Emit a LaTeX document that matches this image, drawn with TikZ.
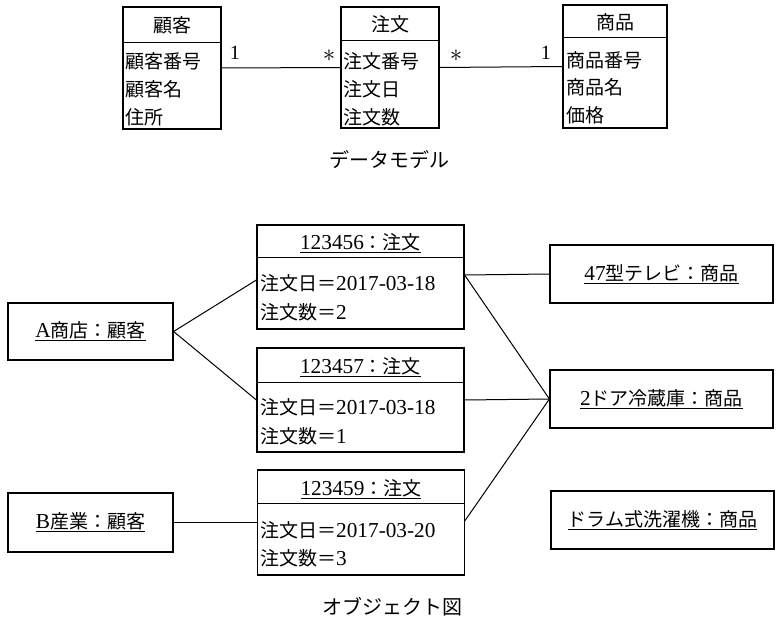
\documentclass[tikz,border=0pt]{standalone}
\usepackage{fontspec}
\setmainfont{Liberation Serif}[Scale=1.12]
\newfontfamily\jp{Noto Sans CJK JP}
\tikzset{
  box/.style={draw, line width=1.2pt, inner sep=0pt},
  conn/.style={line width=1pt},
  txt/.style={inner sep=0pt, font=\fontsize{19}{22}\selectfont},
  attr/.style={txt, anchor=west},
  ttl/.style={inner sep=0pt, font=\fontsize{20}{24}\selectfont},
  mult/.style={inner sep=0pt, font=\fontsize{18}{22}\selectfont},
  star/.style={inner sep=0pt, font=\fontsize{25}{28}\selectfont},
}
\begin{document}
\begin{tikzpicture}[x=1pt, y=-1pt]
\useasboundingbox (0,0) rectangle (783,631);

% ---------- data model ----------
\node[box, minimum width=98pt, minimum height=122pt] (cK) at (172,68) {};
\draw[line width=1.2pt] ([yshift=-36pt]cK.north west) -- ([yshift=-36pt]cK.north east);
\node[txt] (cKh) at (172,25) {\jp 顧客};
\node[attr] (cK1) at (125,61) {\jp 顧客番号};
\node[attr] (cK2) at (125,89) {\jp 顧客名};
\node[attr] (cK3) at (125,117) {\jp 住所};

\node[box, minimum width=98pt, minimum height=121pt] (cC) at (390,67.5) {};
\draw[line width=1.2pt] ([yshift=-34pt]cC.north west) -- ([yshift=-34pt]cC.north east);
\node[txt] (cCh) at (390,24) {\jp 注文};
\node[attr] (cC1) at (343,61) {\jp 注文番号};
\node[attr] (cC2) at (343,89) {\jp 注文日};
\node[attr] (cC3) at (343,117) {\jp 注文数};

\node[box, minimum width=104pt, minimum height=123pt] (cS) at (615,66.5) {};
\draw[line width=1.2pt] ([yshift=-33pt]cS.north west) -- ([yshift=-33pt]cS.north east);
\node[txt] (cSh) at (615,22) {\jp 商品};
\node[attr] (cS1) at (566,60) {\jp 商品番号};
\node[attr] (cS2) at (566,87) {\jp 商品名};
\node[attr] (cS3) at (566,115) {\jp 価格};

\draw[conn] (cK.east) -- (cC.west);
\draw[conn] (cC.east) -- (cS.west);
\node[mult] (m1) at (235,53) {1};
\node[star] (m2) at (329,56) {$\ast$};
\node[star] (m3) at (456,56) {$\ast$};
\node[mult] (m4) at (546,53) {1};

\node[ttl] (t1) at (389,160) {\jp データモデル};

% ---------- object diagram ----------
\node[box, minimum width=165pt, minimum height=57pt] (cA) at (90.5,331.5) {};
\node[txt] (cAt) at (90.5,331.5) {\underline{A{\jp 商店：顧客}}};
\node[box, minimum width=165pt, minimum height=59pt] (cB) at (90.5,522.5) {};
\node[txt] (cBt) at (90.5,522.5) {\underline{B{\jp 産業：顧客}}};

\node[box, minimum width=207pt, minimum height=104pt] (o1) at (360.5,277) {};
\draw[line width=1.2pt] ([yshift=-33pt]o1.north west) -- ([yshift=-33pt]o1.north east);
\node[txt] (o1t) at (360.5,243) {\underline{123456{\jp ：注文}}};
\node[attr] (o1a) at (260,283) {{\jp 注文日＝}2017-03-18};
\node[attr] (o1b) at (260,312) {{\jp 注文数＝}2};

\node[box, minimum width=207pt, minimum height=104pt] (o2) at (360.5,400) {};
\draw[line width=1.2pt] ([yshift=-35pt]o2.north west) -- ([yshift=-35pt]o2.north east);
\node[txt] (o2t) at (360.5,367) {\underline{123457{\jp ：注文}}};
\node[attr] (o2a) at (260,407) {{\jp 注文日＝}2017-03-18};
\node[attr] (o2b) at (260,436) {{\jp 注文数＝}1};

\node[box, minimum width=207pt, minimum height=105pt] (o3) at (361,522.5) {};
\draw[line width=1.2pt] ([yshift=-34pt]o3.north west) -- ([yshift=-34pt]o3.north east);
\node[txt] (o3t) at (361,489) {\underline{123459{\jp ：注文}}};
\node[attr] (o3a) at (260,530) {{\jp 注文日＝}2017-03-20};
\node[attr] (o3b) at (260,558) {{\jp 注文数＝}3};

\node[box, minimum width=223pt, minimum height=58pt] (pT) at (661.5,274) {};
\node[txt] (pTt) at (661.5,274) {\underline{47{\jp 型テレビ：商品}}};
\node[box, minimum width=223pt, minimum height=58pt] (pF) at (661.5,399) {};
\node[txt] (pFt) at (661.5,399) {\underline{2{\jp ドア冷蔵庫：商品}}};
\node[box, minimum width=223pt, minimum height=58pt] (pD) at (662.5,520) {};
\node[txt] (pDt) at (662.5,520) {\underline{\jp ドラム式洗濯機：商品}};

\draw[conn] (cA.east) -- ([yshift=-3pt]o1.west);
\draw[conn] (cA.east) -- (o2.west);
\draw[conn] (cB.east) -- (o3.west);
\draw[conn] ([yshift=2pt]o1.east) -- (pT.west);
\draw[conn] ([yshift=2pt]o1.east) -- (pF.west);
\draw[conn] (o2.east) -- (pF.west);
\draw[conn] ([yshift=2pt]o3.east) -- (pF.west);

\node[ttl] (t2) at (392,607) {\jp オブジェクト図};
\end{tikzpicture}
\end{document}
